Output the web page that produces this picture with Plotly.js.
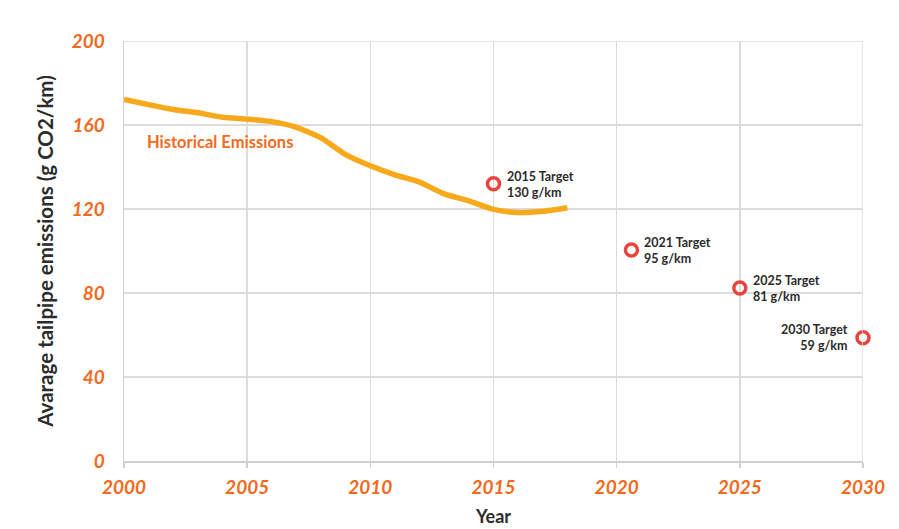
<!DOCTYPE html>
<html>
<head>
<meta charset="utf-8">
<script src="https://cdn.plot.ly/plotly-3.0.1.min.js"></script>
<style>html,body{margin:0;padding:0;background:#fff;}#chart{width:899px;height:529px;}</style>
</head>
<body>
<div id="chart"></div>
<script>
const years = [2000,2001,2002,2003,2004,2005,2006,2007,2008,2009,2010,2011,2012,2013,2014,2015,2016,2017,2018];
const emissions = [172.2,169.7,167.4,165.8,163.7,162.8,161.6,158.9,153.9,145.9,140.6,136.3,132.8,127.2,123.9,119.8,118.3,118.9,120.6];
const targetYears = [2015,2020.6,2025,2030];
const targetValues = [132,100.5,82.4,58.7];
const targetLabels = ["2015 Target<br>130 g/km","2021 Target<br>95 g/km","2025 Target<br>81 g/km","2030 Target<br>59 g/km"];
const xTicks = [2000,2005,2010,2015,2020,2025,2030];
const yTicks = [0,40,80,120,160,200];

const orange = '#f26a21';
const dark = '#2b2b2b';
const fontFam = 'Lato, "Open Sans", Roboto, sans-serif';

const traces = [
  {x: years, y: emissions, type:'scatter', mode:'lines',
   line:{color:'#f8a81b', width:5.5, shape:'spline', smoothing:0.6}, hoverinfo:'skip', showlegend:false},
  {x: targetYears, y: targetValues, type:'scatter', mode:'markers', cliponaxis:false,
   marker:{symbol:'circle-open', size:12, color:'#e8453c', line:{width:3.5, color:'#e8453c'}}, showlegend:false}
];

const annotations = targetLabels.map((t,i)=>{
  const last = i === targetLabels.length-1;
  return {x: targetYears[i], y: targetValues[i], xref:'x', yref:'y', text:'<b>'+t+'</b>', showarrow:false,
    xanchor: last ? 'right':'left', align: last ? 'right':'left', xshift: last ? -13 : 11, yshift: last ? 0 : -1,
    font:{family:fontFam, size:12.5, color:dark}};
});
annotations.push({x:2000.85, y:151.9, xref:'x', yref:'y', text:'<b>Historical Emissions</b>', showarrow:false,
  xanchor:'left', font:{family:fontFam, size:16.5, color:orange}});

const layout = {
  width:899, height:529,
  margin:{l:124, r:36, t:41, b:68},
  paper_bgcolor:'#ffffff', plot_bgcolor:'#ffffff',
  xaxis:{range:[2000,2030], tickvals:xTicks, ticktext:xTicks.map(String),
    showgrid:true, gridcolor:'#dcdcdc', gridwidth:1.5, zeroline:false,
    showline:true, linecolor:'#d0d0d0', linewidth:1.5, mirror:false,
    ticks:'outside', ticklen:5, tickcolor:'#d0d0d0', tickwidth:1.5,
    ticklabelstandoff:4,
    tickfont:{family:fontFam, size:19, color:orange, weight:'bold', style:'italic'},
    title:{text:'<b>Year</b>', font:{family:fontFam, size:18, color:dark}, standoff:13}},
  yaxis:{range:[0,200], tickvals:yTicks, ticktext:yTicks.map(String),
    showgrid:true, gridcolor:'#dcdcdc', gridwidth:1.5, zeroline:false,
    showline:true, linecolor:'#d0d0d0', linewidth:1.5,
    ticks:'', ticklabelstandoff:14,
    tickfont:{family:fontFam, size:19, color:orange, weight:'bold', style:'italic'},
    title:{text:'<b>Avarage tailpipe emissions (g CO2/km)</b>', font:{family:fontFam, size:20.5, color:dark}, standoff:12}},
  shapes:[
    {type:'line', xref:'x', yref:'paper', x0:2030, x1:2030, y0:0, y1:1, line:{color:'#dcdcdc', width:1.5}},
    {type:'line', xref:'paper', yref:'y', x0:0, x1:1, y0:200, y1:200, line:{color:'#dcdcdc', width:1.5}}
  ],
  annotations: annotations,
  showlegend:false
};

Plotly.newPlot('chart', traces, layout, {displayModeBar:false, staticPlot:true});
</script>
</body>
</html>
